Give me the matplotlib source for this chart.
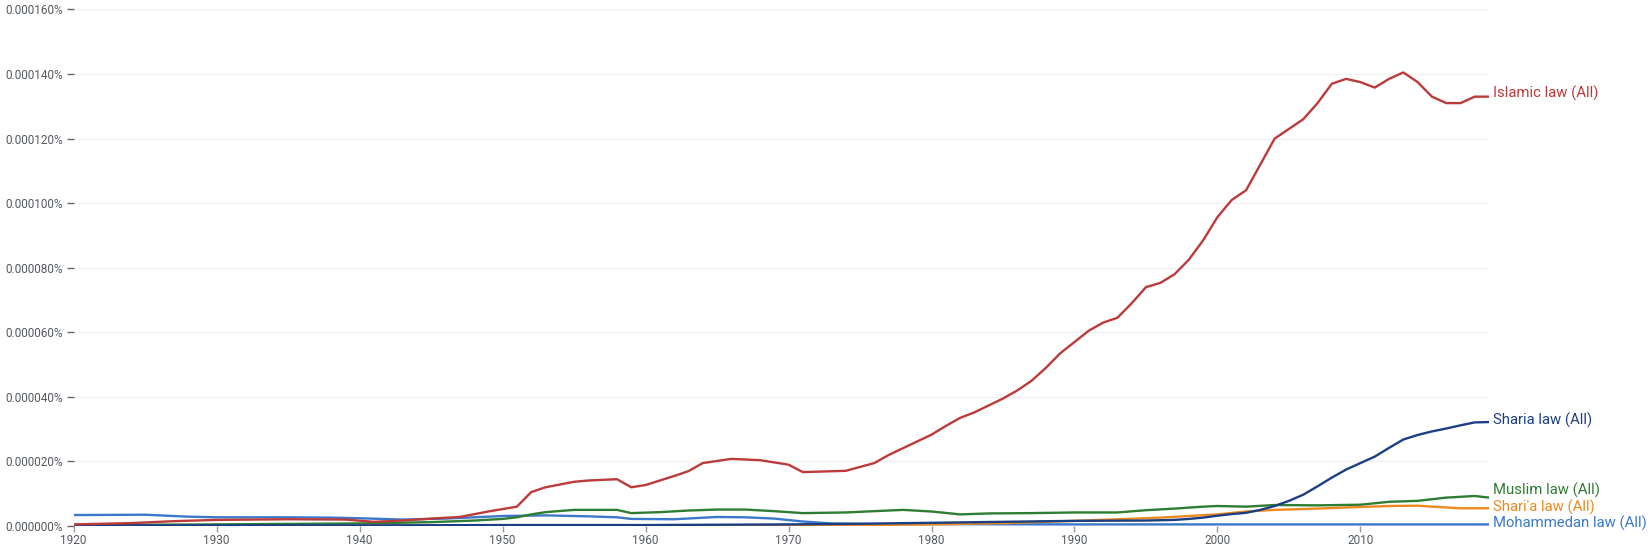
import matplotlib.pyplot as plt
from matplotlib.ticker import FuncFormatter

plt.rcParams['font.family'] = ['Roboto', 'DejaVu Sans']

# values in units of 0.000001 %
islamic_years = [1920, 1924, 1927, 1930, 1935, 1939, 1941, 1943, 1945, 1947, 1949, 1951, 1952, 1953,
                 1955, 1956, 1958, 1959, 1960, 1962, 1963, 1964, 1966, 1968, 1970, 1971, 1974, 1976,
                 1977, 1979, 1980, 1981, 1982, 1983, 1985, 1986, 1987, 1988, 1989, 1990, 1991, 1992,
                 1993, 1994, 1995, 1996, 1997, 1998, 1999, 2000, 2001, 2002, 2003, 2004, 2005, 2006,
                 2007, 2008, 2009, 2010, 2011, 2012, 2013, 2014, 2015, 2016, 2017, 2018, 2019]
islamic = [0.5, 0.9, 1.5, 1.9, 2.1, 2.0, 1.3, 1.7, 2.3, 2.8, 4.5, 6.0, 10.5, 12.0,
           13.7, 14.1, 14.5, 12.0, 12.7, 15.5, 17.0, 19.5, 20.8, 20.4, 19.0, 16.7, 17.1, 19.5,
           22.0, 26.2, 28.3, 31.0, 33.5, 35.2, 39.5, 42.0, 45.0, 49.0, 53.5, 57.0, 60.5, 63.0,
           64.5, 69.0, 74.0, 75.3, 78.0, 82.5, 88.5, 95.7, 101.0, 104.0, 112.0, 120.0, 123.0, 126.0,
           131.0, 137.0, 138.5, 137.5, 135.8, 138.5, 140.5, 137.5, 133.0, 131.0, 131.0, 133.0, 133.0]

sharia_years = [1920, 1940, 1950, 1960, 1970, 1975, 1980, 1985, 1990, 1995, 1997, 1998, 1999, 2000,
                2001, 2002, 2003, 2004, 2005, 2006, 2007, 2008, 2009, 2010, 2011, 2012, 2013, 2014,
                2015, 2016, 2017, 2018, 2019]
sharia = [0.2, 0.2, 0.3, 0.3, 0.5, 0.7, 1.0, 1.3, 1.6, 1.7, 1.9, 2.2, 2.6, 3.2,
          3.7, 4.1, 5.0, 6.2, 7.8, 9.7, 12.3, 15.0, 17.5, 19.5, 21.5, 24.2, 26.8, 28.2,
          29.3, 30.2, 31.2, 32.1, 32.2]

muslim_years = [1920, 1930, 1940, 1945, 1948, 1950, 1951, 1952, 1953, 1955, 1958, 1959, 1961, 1963,
                1965, 1967, 1969, 1971, 1974, 1976, 1978, 1980, 1982, 1984, 1987, 1990, 1993, 1995,
                1997, 1999, 2000, 2002, 2004, 2007, 2010, 2012, 2014, 2016, 2018, 2019]
muslim = [0.3, 0.5, 0.8, 1.2, 1.7, 2.2, 2.7, 3.6, 4.3, 5.0, 5.0, 4.0, 4.3, 4.8,
          5.1, 5.1, 4.6, 4.0, 4.2, 4.6, 5.0, 4.5, 3.6, 3.9, 4.0, 4.2, 4.2, 4.9,
          5.4, 6.0, 6.2, 6.0, 6.5, 6.4, 6.6, 7.5, 7.8, 8.8, 9.3, 8.8]

sharia2_years = [1920, 1970, 1975, 1980, 1985, 1990, 1993, 1996, 1998, 2000, 2002, 2004, 2007, 2010,
                 2012, 2014, 2015, 2017, 2019]
sharia2 = [0.0, 0.1, 0.3, 0.5, 0.9, 1.6, 2.1, 2.6, 3.1, 3.6, 4.5, 5.0, 5.4, 5.9,
           6.2, 6.3, 6.0, 5.5, 5.5]

mohammedan_years = [1920, 1925, 1928, 1930, 1935, 1938, 1940, 1943, 1946, 1950, 1953, 1956, 1958, 1959,
                    1962, 1965, 1967, 1969, 1971, 1973, 1976, 1980, 1990, 2000, 2010, 2019]
mohammedan = [3.4, 3.5, 2.9, 2.7, 2.7, 2.6, 2.4, 2.0, 2.3, 3.1, 3.3, 3.0, 2.7, 2.2,
              2.1, 2.8, 2.7, 2.3, 1.4, 0.8, 0.6, 0.6, 0.5, 0.5, 0.5, 0.5]

labels = ['Islamic law (All)', 'Sharia law (All)', 'Muslim law (All)',
          "Shari'a law (All)", 'Mohammedan law (All)']
colors = ['#bd3a3a', '#1c3f84', '#2e7d32', '#ec8a1f', '#3b78cc']
label_y = [134, 32.6, 11.0, 5.8, 0.9]

fig = plt.figure(figsize=(16.52, 5.54), dpi=100)
ax = fig.add_axes([0.0446, 0.0505, 0.8568, 0.9324])

series = [(islamic_years, islamic), (sharia_years, sharia), (muslim_years, muslim),
          (sharia2_years, sharia2), (mohammedan_years, mohammedan)]
# draw back to front like the reference
for i in [4, 3, 2, 0, 1]:
    xs, ys = series[i]
    ax.plot(xs, ys, color=colors[i], lw=1.7, solid_capstyle='round', zorder=3 + (4 - i))
    ax.text(2019 + 0.3, label_y[i], labels[i], color=colors[i], fontsize=10.7,
            va='center', ha='left', clip_on=False)

ax.set_xlim(1920, 2019)
ax.set_ylim(0, 160)
ax.set_yticks(range(0, 161, 20))
ax.set_xticks(range(1920, 2011, 10))
ax.yaxis.set_major_formatter(FuncFormatter(lambda v, p: f"{v * 1e-6:.6f}%"))
ax.grid(axis='y', color='#f2f2f2', lw=1)
ax.set_axisbelow(True)
for s in ax.spines.values():
    s.set_visible(False)
ax.tick_params(axis='y', length=5, width=1, color='#666666', labelcolor='#555a5f',
               labelsize=8.5, pad=3)
ax.tick_params(axis='x', length=4, width=1, color='#999999', labelcolor='#555a5f',
               labelsize=8.5, pad=2)

fig.savefig('out.png', dpi=100)
